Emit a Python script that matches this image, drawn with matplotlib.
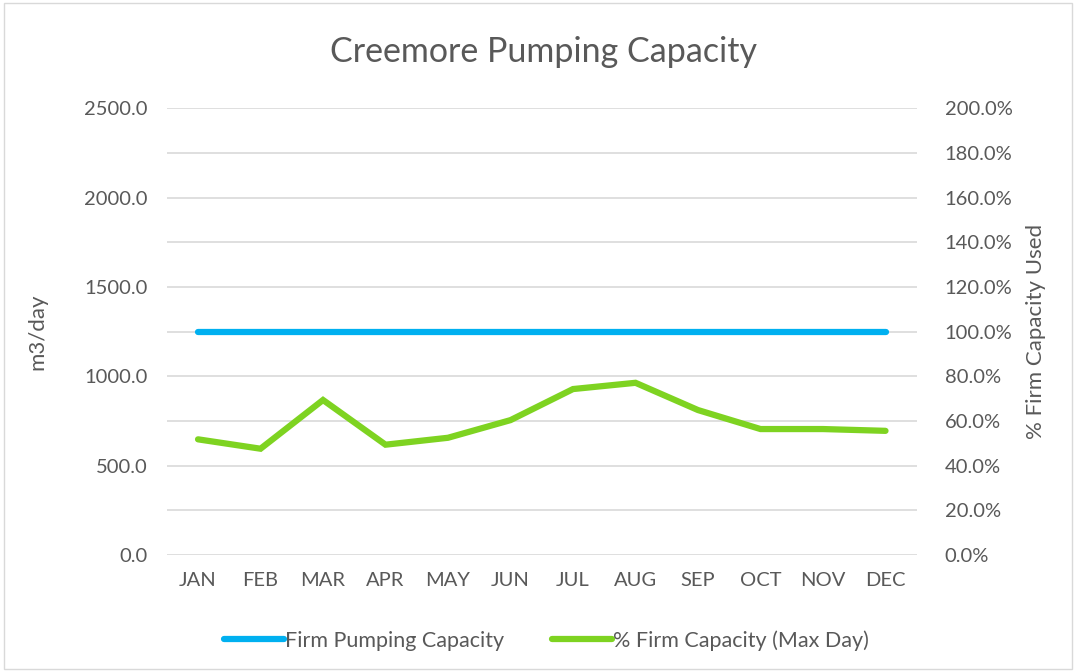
import matplotlib
matplotlib.use("Agg")
import matplotlib.pyplot as plt
from matplotlib.patches import Rectangle

months = ["JAN", "FEB", "MAR", "APR", "MAY", "JUN", "JUL", "AUG", "SEP", "OCT", "NOV", "DEC"]
firm_capacity = [1250.0] * 12
pct_firm_capacity = [51.8, 47.6, 69.4, 49.4, 52.5, 60.4, 74.3, 77.1, 64.9, 56.4, 56.4, 55.6]

plt.rcParams['font.family'] = ['Lato', 'DejaVu Sans']
txt = '#595959'
grid = '#D9D9D9'

fig = plt.figure(figsize=(10.76, 6.72), dpi=100)
fig.patches.append(Rectangle((0.004, 0.004), 0.992, 0.992, transform=fig.transFigure,
                             fill=False, edgecolor=grid, linewidth=1.0))
ax = fig.add_axes([0.155, 0.174, 0.697, 0.665])
ax2 = ax.twinx()

x = list(range(len(months)))
for v in range(0, 2501, 250):
    ax.axhline(v, color=grid, lw=1.2, zorder=0)
l1, = ax.plot(x, firm_capacity, color='#00B0F0', lw=4.5, solid_capstyle='round', zorder=3,
              label='Firm Pumping Capacity')
l2, = ax2.plot(x, pct_firm_capacity, color='#7ED321', lw=4.5, solid_capstyle='round',
               solid_joinstyle='miter', zorder=3, label='% Firm Capacity (Max Day)')

ax.set_xlim(-0.5, 11.5)
ax.set_ylim(0, 2500)
ax2.set_ylim(0, 200)
ax.set_yticks([0, 500, 1000, 1500, 2000, 2500])
ax.set_yticklabels([f"{v:.1f}" for v in [0, 500, 1000, 1500, 2000, 2500]])
ax2.set_yticks(range(0, 201, 20))
ax2.set_yticklabels([f"{v:.1f}%" for v in range(0, 201, 20)])
ax.set_xticks(x)
ax.set_xticklabels(months)

for a in (ax, ax2):
    for s in a.spines.values():
        s.set_visible(False)
    a.tick_params(length=0, labelsize=14.5, colors=txt)
ax.tick_params(axis='y', pad=14)
ax2.tick_params(axis='y', pad=20)
ax.tick_params(axis='x', pad=12)

ax.set_ylabel('m3/day', fontsize=16, color=txt, labelpad=26)
ax2.set_ylabel('% Firm Capacity Used', fontsize=16, color=txt, labelpad=10)
fig.text(0.505, 0.922, 'Creemore Pumping Capacity', ha='center', va='center', fontsize=24.5, color=txt)

fig.legend(handles=[l1, l2], loc='center', bbox_to_anchor=(0.508, 0.047), ncol=2, frameon=False,
           fontsize=15.5, labelcolor=txt, handlelength=2.8, handletextpad=0.05, columnspacing=2.2)

fig.savefig('out.png', dpi=100)
